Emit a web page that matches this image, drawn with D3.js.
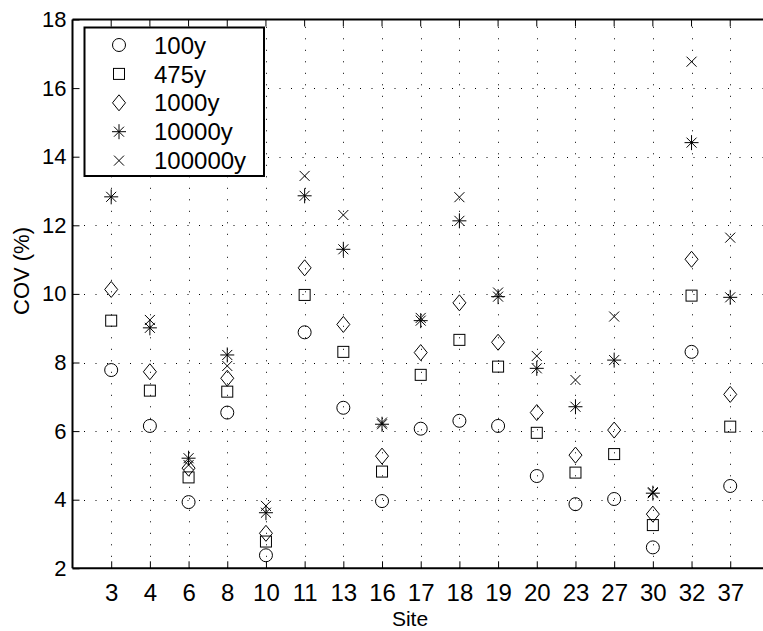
<!DOCTYPE html>
<html>
<head>
<meta charset="utf-8">
<script src="https://cdn.jsdelivr.net/npm/d3@7"></script>
<style>
  html, body { margin: 0; padding: 0; background: #fff; }
  svg { display: block; font-family: "Liberation Sans", Arial, Helvetica, sans-serif; }
</style>
</head>
<body>
<svg id="chart" width="763" height="631"></svg>
<script>
// ---- data ----
const sites = ["3", "4", "6", "8", "10", "11", "13", "16", "17", "18", "19", "20", "23", "27", "30", "32", "37"];
const seriesNames = ["100y", "475y", "1000y", "10000y", "100000y"];
const cov100y    = [7.78, 6.15, 3.93, 6.54, 2.38, 8.88, 6.68, 3.96, 6.07, 6.30, 6.15, 4.69, 3.87, 4.02, 2.61, 8.31, 4.40];
const cov475y    = [9.22, 7.18, 4.65, 7.15, 2.78, 9.97, 8.31, 4.82, 7.64, 8.66, 7.88, 5.95, 4.79, 5.33, 3.26, 9.95, 6.13];
const cov1000y   = [10.13, 7.73, 4.92, 7.54, 3.02, 10.76, 9.11, 5.27, 8.29, 9.74, 8.59, 6.54, 5.30, 6.03, 3.58, 11.01, 7.07];
const cov10000y  = [12.83, 9.01, 5.21, 8.22, 3.62, 12.86, 11.30, 6.20, 9.22, 12.13, 9.92, 7.83, 6.71, 8.07, 4.19, 14.41, 9.90];
const cov100000y = [null, 9.24, 5.01, 7.90, 3.82, 13.44, 12.30, 6.25, 9.30, 12.82, 10.04, 8.19, 7.49, 9.34, 4.22, 16.77, 11.64];
const yTicks = [2, 4, 6, 8, 10, 12, 14, 16, 18];
const xLabel = "Site";
const yLabel = "COV (%)";

const seriesValues = [cov100y, cov475y, cov1000y, cov10000y, cov100000y];
const markerTypes = ["circle", "square", "diamond", "star", "cross"];

// ---- layout ----
const svg = d3.select("#chart");
const pLeft = 72.5, pTop = 19.5, pBottom = 568.3, step = 38.69;
const x = d3.scaleLinear().domain([0, sites.length + 1]).range([pLeft, pLeft + step * (sites.length + 1)]);
const y = d3.scaleLinear().domain([2, 18]).range([pBottom, pTop]);
const pRight = x(sites.length + 1);

// grid
const grid = svg.append("g").attr("stroke", "#000").attr("stroke-width", 1)
  .attr("stroke-dasharray", "1,10.5");
grid.selectAll("line.h").data(yTicks.slice(1, -1)).join("line")
  .attr("x1", pLeft).attr("x2", pRight)
  .attr("y1", d => Math.round(y(d)) + 0.5).attr("y2", d => Math.round(y(d)) + 0.5);
grid.selectAll("line.v").data(sites).join("line")
  .attr("x1", (d, i) => Math.round(x(i + 1)) + 0.5).attr("x2", (d, i) => Math.round(x(i + 1)) + 0.5)
  .attr("y1", pBottom).attr("y2", pTop);

// axes
const yAxis = d3.axisLeft(y).tickValues(yTicks).tickSize(-7).tickPadding(6).tickFormat(d3.format("d"));
const gy = svg.append("g").attr("transform", `translate(${pLeft},0)`).call(yAxis);
const xAxis = d3.axisBottom(x).tickValues(d3.range(1, sites.length + 1)).tickSize(-7).tickPadding(16)
  .tickFormat(d => sites[d - 1]);
const gx = svg.append("g").attr("transform", `translate(0,${pBottom})`).call(xAxis);
[gx, gy].forEach(g => {
  g.selectAll("text").attr("fill", "#000")
    .attr("font-family", "'Liberation Sans', Arial, sans-serif");
  g.selectAll("line").attr("stroke", "#000").attr("stroke-width", 1);
  g.select(".domain").attr("stroke", "#000").attr("stroke-width", 2);
});
gy.selectAll("text").attr("font-size", 22);
gx.selectAll("text").attr("font-size", 24);
gx.select(".domain").attr("d", `M${pLeft},0H${pRight}`);
gy.select(".domain").attr("d", `M0,${pBottom}V${pTop}`);
// top border with ticks
svg.append("line").attr("x1", pLeft).attr("x2", pRight).attr("y1", pTop).attr("y2", pTop)
  .attr("stroke", "#000").attr("stroke-width", 2);
svg.append("g").selectAll("line").data(d3.range(1, sites.length + 1)).join("line")
  .attr("x1", d => x(d)).attr("x2", d => x(d)).attr("y1", pTop).attr("y2", pTop + 7)
  .attr("stroke", "#000");

// axis labels
svg.append("text").attr("x", 410).attr("y", 626).attr("text-anchor", "middle")
  .attr("font-size", 21).text(xLabel);
svg.append("text").attr("transform", `translate(29,271) rotate(-90)`)
  .attr("text-anchor", "middle").attr("font-size", 22).text(yLabel);

// marker drawing
function drawMarker(g, type) {
  const s = "#000";
  if (type === "circle") {
    g.append("circle").attr("r", 6.5).attr("fill", "none").attr("stroke", s);
  } else if (type === "square") {
    g.append("rect").attr("x", -5.5).attr("y", -5.5).attr("width", 11).attr("height", 11)
      .attr("fill", "none").attr("stroke", s);
  } else if (type === "diamond") {
    g.append("path").attr("d", "M0,-8L6.5,0L0,8L-6.5,0Z").attr("fill", "none").attr("stroke", s);
  } else if (type === "star") {
    g.append("path").attr("d", "M-7,0H7M0,-7.5V7.5M-5,-5L5,5M-5,5L5,-5").attr("fill", "none").attr("stroke", s);
  } else if (type === "cross") {
    g.append("path").attr("d", "M-5,-5L5,5M-5,5L5,-5").attr("fill", "none").attr("stroke", s);
  }
}

// points
const pts = svg.append("g");
seriesValues.forEach((vals, si) => {
  vals.forEach((v, i) => {
    if (v == null) return;
    const g = pts.append("g").attr("transform", `translate(${x(i + 1)},${y(v)})`);
    drawMarker(g, markerTypes[si]);
  });
});

// legend
const lg = svg.append("g");
lg.append("rect").attr("x", 84.5).attr("y", 27.5).attr("width", 179.5).attr("height", 148.5)
  .attr("fill", "#fff").attr("stroke", "#000").attr("stroke-width", 2);
seriesNames.forEach((name, i) => {
  const cy = 45 + i * 28.9;
  const g = lg.append("g").attr("transform", `translate(119,${cy})`);
  drawMarker(g, markerTypes[i]);
  lg.append("text").attr("x", 154).attr("y", cy).attr("dy", "0.36em")
    .attr("font-size", 24).text(name);
});
</script>
</body>
</html>
